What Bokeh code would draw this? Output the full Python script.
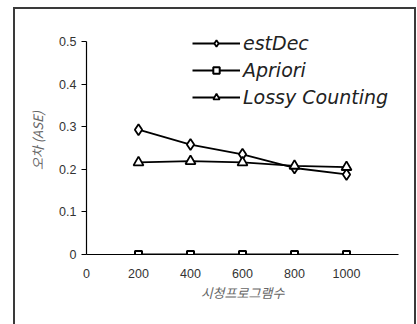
from bokeh.plotting import figure
from bokeh.models import Range1d, FixedTicker, Legend, LegendItem, InlineStyleSheet
from bokeh.embed import file_html
from bokeh.resources import INLINE

x_vals = [200, 400, 600, 800, 1000]
est_dec = [0.293, 0.258, 0.235, 0.203, 0.188]
apriori = [0.0, 0.0, 0.0, 0.0, 0.0]
lossy = [0.216, 0.219, 0.216, 0.208, 0.205]
x_ticks = [0, 200, 400, 600, 800, 1000]
y_ticks = [0, 0.1, 0.2, 0.3, 0.4, 0.5]

C = "#3a3a3a"
css = f""":host::after {{
  content: ""; position: absolute; left: 15px; top: 9px; width: 399px; height: 315px;
  outline: 2px solid {C}; background: transparent;
  pointer-events: none; z-index: 10;
}}"""

p = figure(width=417, height=324, output_backend="svg", toolbar_location=None,
           x_range=Range1d(0, 1200), y_range=Range1d(0, 0.535),
           min_border_left=86, min_border_right=19, min_border_top=26, min_border_bottom=70)
p.stylesheets = [InlineStyleSheet(css=css)]
p.outline_line_color = None
p.grid.visible = False
p.background_fill_color = "white"

for ax in (p.xaxis[0], p.yaxis[0]):
    ax.axis_line_color = "black"
    ax.axis_line_width = 1.2
    ax.minor_tick_line_color = None
    ax.major_label_text_font = "Liberation Sans"
    ax.major_label_text_font_size = "12.5px"
    ax.major_label_text_color = "#333333"
    ax.axis_label_text_font = "Noto Sans CJK KR"
    ax.axis_label_text_font_style = "italic"
    ax.axis_label_text_font_size = "13px"
    ax.axis_label_text_color = "#666666"

p.xaxis.ticker = FixedTicker(ticks=x_ticks)
p.xaxis.bounds = (0, 1200)
p.xaxis.major_tick_out = 0
p.xaxis.major_tick_in = 0
p.xaxis.major_label_standoff = 14
p.xaxis.axis_label = "시청프로그램수"
p.xaxis.axis_label_standoff = 2

p.yaxis.ticker = FixedTicker(ticks=y_ticks)
p.yaxis.bounds = (0, 0.5)
p.yaxis.major_tick_out = 5
p.yaxis.major_tick_in = 0
p.yaxis.major_tick_line_color = "black"
p.yaxis.major_label_standoff = 5
p.yaxis.major_label_overrides = {0: "0"}
p.yaxis.axis_label = "오차 (ASE)"
p.yaxis.axis_label_standoff = 9

lw = 1.8
l1 = p.line(x_vals, est_dec, line_color="black", line_width=lw)
m1 = p.scatter(x_vals, est_dec, marker="diamond", size=11, fill_color="white",
               line_color="black", line_width=1.8)
l2 = p.line(x_vals, apriori, line_color="black", line_width=lw)
m2 = p.scatter(x_vals, apriori, marker="square", size=7, fill_color="white",
               line_color="black", line_width=2)
l3 = p.line(x_vals, lossy, line_color="black", line_width=lw)
m3 = p.scatter(x_vals, lossy, marker="triangle", size=10, fill_color="white",
               line_color="black", line_width=1.8)

legend = Legend(items=[
    LegendItem(label="estDec", renderers=[l1, m1]),
    LegendItem(label="Apriori", renderers=[l2, m2]),
    LegendItem(label="Lossy Counting", renderers=[l3, m3]),
], location=(106, 146), orientation="vertical")
legend.background_fill_alpha = 0
legend.border_line_color = None
legend.padding = 0
legend.margin = 0
legend.spacing = 4
legend.glyph_width = 48
legend.glyph_height = 16
legend.label_height = 23
legend.label_standoff = 3
legend.label_text_font = "DejaVu Sans"
legend.label_text_font_style = "italic"
legend.label_text_font_size = "19px"
legend.label_text_color = "#222222"
p.add_layout(legend)

open("out.html", "w").write(file_html(p, INLINE))
